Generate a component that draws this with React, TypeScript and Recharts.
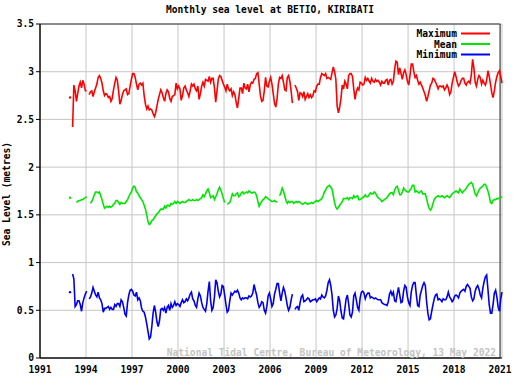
import { LineChart, Line, XAxis, YAxis, CartesianGrid, ReferenceArea } from "recharts";

// monthly values starting Dec 1992, one row per calendar year after that
const maxLevel = [
  2.73,
  null, 2.42, 2.86, 2.80, 2.69, 2.77, 2.85, 2.89, 2.83, 2.91, 2.87, 2.80,
  2.80, null, 2.76, 2.79, 2.80, 2.74, 2.79, 2.83, 2.87, 2.94, 2.96, 2.93,
  2.88, 2.80, 2.75, 2.77, 2.76, 2.73, 2.74, 2.69, 2.72, 2.81, 2.88, 2.94,
  2.91, 2.80, 2.66, 2.70, 2.76, 2.80, 2.81, 2.82, 2.76, 2.77, 2.85, 2.92,
  2.98, 2.98, 2.94, 2.87, 2.81, 2.87, 2.88, 2.86, 2.88, 2.75, 2.66, 2.61,
  2.64, 2.60, 2.61, 2.60, 2.56, 2.53, 2.57, 2.64, 2.71, 2.76, 2.81, 2.78,
  2.73, 2.69, 2.77, 2.81, 2.79, 2.72, 2.69, 2.74, 2.75, 2.76, 2.88, 2.82,
  2.85, 2.82, 2.70, 2.75, 2.83, 2.85, 2.81, 2.78, 2.74, 2.80, 2.87, 2.85,
  2.87, 2.82, 2.80, 2.85, 2.71, 2.77, 2.85, 2.89, 2.85, 2.92, 2.91, 2.90,
  2.95, 2.89, 2.93, 2.93, 2.83, 2.68, 2.80, 2.92, 2.96, 2.95, 2.91, 2.87,
  2.84, 2.80, 2.87, 2.82, 2.80, 2.82, 2.75, 2.79, 2.76, 2.68, 2.62, 2.72,
  2.83, 2.83, 2.77, 2.88, 2.83, 2.82, 2.87, 2.79, 2.86, 2.89, 2.88, 2.92,
  2.93, 2.98, 2.99, 2.87, 2.75, 2.69, 2.70, 2.80, 2.94, 2.85, 2.84, 2.90,
  2.94, 2.87, 2.77, 2.67, 2.63, 2.72, 2.87, 2.94, 2.93, 2.96, 2.89, 2.81,
  2.80, 2.94, 2.96, 2.90, 2.80, 2.67, null, 2.86, 2.83, 2.79, 2.70, 2.78,
  2.77, 2.74, 2.79, 2.71, 2.74, 2.77, 2.73, 2.76, 2.73, 2.75, 2.80, 2.79,
  2.85, 2.87, 2.87, 2.94, 2.98, 2.97, 2.96, 2.98, 2.93, 2.94, 2.93, 2.92,
  2.99, 3.05, 3.00, 2.92, 2.64, 2.57, 2.63, 2.72, 2.86, 2.82, 2.90, 2.87,
  2.82, 2.96, 2.98, 2.98, 2.95, 2.82, 2.71, 2.79, 2.83, 2.81, 2.89, 2.88,
  2.86, 2.87, 2.94, 2.91, 2.93, 2.90, 2.88, 2.93, 2.90, 2.89, 2.92, 2.90,
  2.91, 2.89, 2.86, 2.90, 2.88, 2.88, 2.91, 2.92, 2.86, 2.91, 2.92, 2.87,
  2.90, 3.03, 3.11, 3.10, 2.97, 3.04, 2.98, 2.92, 2.99, 3.02, 2.97, 2.90,
  2.86, 2.96, 3.08, 3.08, 3.00, 2.94, 2.96, 2.91, 2.87, 2.89, 2.86, 2.83,
  2.79, 2.75, 2.69, 2.74, 2.80, 2.86, 2.88, 2.93, 2.92, 2.89, 2.86, 2.82,
  2.85, 2.85, 2.84, 2.85, 2.81, 2.83, 2.86, 2.83, 2.76, 2.79, 2.88, 2.94,
  3.00, 2.95, 2.89, 2.85, 2.87, 2.91, 2.93, 2.93, 2.88, 2.86, 2.89, 2.90,
  2.88, 2.97, 3.13, 3.04, 2.89, 2.85, 2.92, 2.96, 2.94, 2.87, 2.91, 2.88,
  2.86, 2.91, 3.01, 2.95, 2.87, 2.78, 2.73, 2.80, 2.89, 2.95, 2.99, 3.01,
  2.95, 2.88,
];

const meanLevel = [
  1.68,
  null, null, null, null, 1.63, 1.64, 1.65, 1.65, 1.66, 1.66, 1.67, 1.68,
  1.69, null, null, 1.62, 1.64, 1.67, 1.71, 1.74, 1.74, 1.73, 1.74, 1.70,
  1.66, 1.61, 1.57, 1.58, 1.59, 1.58, 1.59, 1.58, 1.59, 1.61, 1.62, 1.65,
  1.65, 1.63, 1.61, 1.63, 1.62, 1.62, 1.62, 1.64, 1.66, 1.69, 1.72, 1.74,
  1.78, 1.80, 1.79, 1.74, 1.73, 1.70, 1.68, 1.66, 1.64, 1.60, 1.56, 1.50,
  1.43, 1.40, 1.41, 1.44, 1.45, 1.47, 1.49, 1.51, 1.52, 1.54, 1.56, 1.56,
  1.56, 1.59, 1.57, 1.60, 1.60, 1.59, 1.62, 1.61, 1.62, 1.64, 1.62, 1.64,
  1.63, 1.62, 1.63, 1.64, 1.63, 1.63, 1.64, 1.65, 1.66, 1.65, 1.65, 1.66,
  1.65, 1.65, 1.66, 1.65, 1.66, 1.67, 1.68, 1.71, 1.69, 1.72, 1.75, 1.77,
  1.73, 1.68, 1.69, 1.70, 1.66, 1.69, 1.72, 1.76, 1.79, 1.76, 1.72, 1.67,
  1.63, null, 1.61, 1.62, 1.63, 1.67, 1.72, 1.70, 1.70, 1.72, 1.73, 1.69,
  1.70, 1.73, 1.74, 1.72, 1.73, 1.74, 1.73, 1.75, 1.74, 1.73, 1.73, 1.74,
  1.73, 1.70, 1.64, 1.59, 1.62, 1.64, 1.66, 1.67, 1.69, 1.68, 1.67, 1.66,
  1.65, 1.64, 1.64, 1.65, 1.64, 1.63, null, 1.70, 1.73, 1.78, 1.75, 1.70,
  1.65, 1.62, 1.64, 1.63, 1.64, 1.64, 1.62, 1.63, 1.64, 1.63, 1.64, 1.63,
  1.62, 1.61, 1.62, 1.63, 1.62, 1.61, 1.62, 1.62, 1.63, 1.62, 1.63, 1.64,
  1.65, 1.64, 1.65, 1.66, 1.67, 1.70, 1.74, 1.76, 1.79, 1.80, 1.81, 1.79,
  1.77, 1.70, 1.63, 1.58, 1.56, 1.58, 1.60, 1.62, 1.64, 1.67, 1.67, 1.67,
  1.68, 1.66, 1.68, 1.68, 1.67, 1.70, 1.68, 1.69, 1.70, 1.66, 1.66, 1.67,
  1.68, 1.69, 1.71, 1.69, 1.69, 1.71, 1.73, 1.72, 1.72, 1.74, 1.73, 1.70,
  1.68, 1.67, 1.66, 1.64, 1.65, 1.66, 1.67, 1.68, 1.70, 1.72, 1.73, 1.73,
  1.71, 1.76, 1.79, 1.80, 1.76, 1.71, 1.71, 1.74, 1.78, 1.76, 1.75, 1.74,
  1.74, 1.76, 1.78, 1.81, 1.81, 1.74, 1.75, 1.74, 1.73, 1.74, 1.75, 1.72,
  1.72, 1.72, 1.67, 1.61, 1.57, 1.55, 1.57, 1.62, 1.66, 1.68, 1.69, 1.70,
  1.69, 1.69, 1.70, 1.69, 1.68, 1.69, 1.70, 1.69, 1.68, 1.70, 1.72, 1.73,
  1.74, 1.75, 1.74, 1.73, 1.77, 1.75, 1.73, 1.75, 1.76, 1.78, 1.80, 1.82,
  1.83, 1.84, 1.82, 1.77, 1.72, 1.70, 1.73, 1.76, 1.78, 1.79, 1.80, 1.82,
  1.82, 1.79, 1.75, 1.70, 1.63, 1.62, 1.65, 1.66, 1.66, 1.67, 1.67, 1.68,
  1.68, 1.69,
];

const minLevel = [
  0.69,
  null, 0.88, 0.83, 0.54, 0.56, 0.60, 0.60, 0.56, 0.49, 0.58, 0.63, 0.67,
  0.70, null, 0.62, 0.64, 0.68, 0.74, 0.70, 0.66, 0.64, 0.69, 0.63, 0.61,
  0.57, 0.48, 0.52, 0.52, 0.53, 0.54, 0.51, 0.53, 0.51, 0.51, 0.56, 0.54,
  0.57, 0.57, 0.54, 0.61, 0.59, 0.53, 0.46, 0.44, 0.58, 0.66, 0.71, 0.72,
  0.70, 0.66, 0.65, 0.69, 0.61, 0.63, 0.60, 0.52, 0.49, 0.48, 0.43, 0.36,
  0.28, 0.20, 0.22, 0.33, 0.47, 0.55, 0.48, 0.38, 0.33, 0.39, 0.51, 0.52,
  0.50, 0.53, 0.47, 0.53, 0.55, 0.50, 0.57, 0.53, 0.55, 0.59, 0.55, 0.57,
  0.56, 0.54, 0.58, 0.61, 0.58, 0.59, 0.62, 0.60, 0.63, 0.67, 0.69, 0.62,
  0.60, 0.55, 0.53, 0.62, 0.68, 0.65, 0.58, 0.53, 0.51, 0.49, 0.57, 0.70,
  0.80, 0.60, 0.50, 0.53, 0.64, 0.82, 0.79, 0.70, 0.64, 0.67, 0.76, 0.75,
  0.66, 0.56, 0.48, 0.50, 0.60, 0.68, 0.66, 0.68, 0.70, 0.69, 0.71, 0.68,
  0.63, 0.61, 0.63, 0.62, 0.63, 0.63, 0.62, 0.65, 0.64, 0.65, 0.68, 0.77,
  0.71, 0.66, 0.58, 0.53, 0.55, 0.59, 0.58, 0.50, 0.47, 0.54, 0.65, 0.68,
  0.62, 0.54, 0.57, 0.67, 0.72, 0.78, 0.78, 0.68, 0.60, 0.68, 0.74, 0.70,
  0.63, 0.55, 0.50, 0.53, 0.61, 0.67, null, 0.51, 0.53, 0.54, 0.50, 0.58,
  0.64, 0.66, 0.59, 0.60, 0.61, 0.63, 0.62, 0.59, 0.60, 0.61, 0.61, 0.62,
  0.59, 0.61, 0.63, 0.62, 0.66, 0.64, 0.63, 0.65, 0.71, 0.79, 0.82, 0.76,
  0.66, 0.50, 0.43, 0.45, 0.52, 0.65, 0.60, 0.49, 0.42, 0.41, 0.51, 0.62,
  0.66, 0.57, 0.45, 0.43, 0.48, 0.65, 0.68, 0.61, 0.53, 0.50, 0.63, 0.69,
  0.70, 0.68, 0.62, 0.66, 0.68, 0.68, 0.63, 0.64, 0.63, 0.62, 0.63, 0.62,
  0.61, 0.61, 0.61, 0.58, 0.57, 0.56, 0.56, 0.55, 0.59, 0.67, 0.70, 0.66,
  0.69, 0.60, 0.59, 0.67, 0.74, 0.66, 0.58, 0.59, 0.70, 0.76, 0.74, 0.64,
  0.58, 0.55, 0.69, 0.76, 0.79, 0.79, 0.66, 0.55, 0.54, 0.66, 0.71, 0.76,
  0.79, 0.76, 0.59, 0.47, 0.40, 0.41, 0.49, 0.56, 0.62, 0.66, 0.67, 0.61,
  0.62, 0.61, 0.59, 0.62, 0.61, 0.61, 0.64, 0.69, 0.64, 0.62, 0.59, 0.61,
  0.65, 0.66, 0.65, 0.63, 0.68, 0.70, 0.71, 0.72, 0.70, 0.75, 0.77, 0.75,
  0.73, 0.64, 0.60, 0.62, 0.70, 0.74, 0.76, 0.72, 0.66, 0.63, 0.73, 0.80,
  0.85, 0.87, 0.72, 0.56, 0.47, 0.47, 0.56, 0.68, 0.71, 0.64, 0.53, 0.49,
  0.62, 0.69,
];

const yearTicks = [1991, 1994, 1997, 2000, 2003, 2006, 2009, 2012, 2015, 2018, 2021];
const levelTicks = [0, 0.5, 1, 1.5, 2, 2.5, 3, 3.5];

const series = [
  { key: "max", name: "Maximum", color: "#ff0000", values: maxLevel },
  { key: "mean", name: "Mean", color: "#00e600", values: meanLevel },
  { key: "min", name: "Minimum", color: "#0000ee", values: minLevel },
];

// mid-month decimal year, first entry is Dec 1992
const data = maxLevel.map((_, i) => ({
  year: 1992 + (11.5 + i) / 12,
  max: maxLevel[i],
  mean: meanLevel[i],
  min: minLevel[i],
}));

const FONT = "'DejaVu Sans Mono', 'Liberation Mono', monospace";
const tickStyle = { fontFamily: FONT, fontSize: 9.6, fontWeight: "bold", fill: "#000" };

// only months with no neighbours get a dot, otherwise they would vanish
const loneDot = (values: (number | null)[], color: string) => (props: any) => {
  const { cx, cy, index } = props;
  const lone = values[index] != null && values[index - 1] == null && values[index + 1] == null;
  if (!lone || cx == null || cy == null) return <g key={index} />;
  return <circle key={index} cx={cx} cy={cy} r={1.2} fill={color} />;
};

export default function App() {
  return (
    <div style={{ position: "absolute", left: 0, top: 0, width: 527, height: 379, background: "#fff" }}>
      <LineChart width={527} height={379} data={data} margin={{ top: 24, right: 25, bottom: 0, left: 0 }}>
        <CartesianGrid stroke="#c6c6c6" strokeWidth={1} />
        <XAxis
          type="number"
          dataKey="year"
          domain={[1991, 2021]}
          ticks={yearTicks}
          height={21}
          tick={tickStyle}
          tickLine={false}
          axisLine={{ stroke: "#000" }}
        />
        <YAxis
          domain={[0, 3.5]}
          ticks={levelTicks}
          width={40}
          tick={tickStyle}
          tickSize={4}
          tickMargin={2}
          tickLine={{ stroke: "#000" }}
          axisLine={{ stroke: "#000" }}
        />
        <ReferenceArea x1={1991} x2={2021} y1={0} y2={3.5} fill="none" stroke="#333" strokeWidth={1} />
        {series.map((s) => (
          <Line
            key={s.key}
            type="linear"
            dataKey={s.key}
            name={s.name}
            stroke={s.color}
            strokeWidth={1.6}
            dot={loneDot(s.values, s.color)}
            activeDot={false}
            isAnimationActive={false}
          />
        ))}
      </LineChart>
      <svg
        width={527}
        height={379}
        style={{ position: "absolute", left: 0, top: 0, pointerEvents: "none" }}
        fontFamily={FONT}
        fontWeight="bold"
        fontSize={9.6}
      >
        <text x={270} y={12.5} textAnchor="middle" fill="#000">
          Monthly sea level at BETIO, KIRIBATI
        </text>
        <text x={10} y={194} textAnchor="middle" fill="#000" transform="rotate(-90 10 194)">
          Sea Level (metres)
        </text>
        <text x={496} y={355.5} textAnchor="end" fill="#c4c4c4">
          National Tidal Centre, Bureau of Meteorology, 13 May 2022
        </text>
        {series.map((s, i) => (
          <g key={s.key}>
            <text x={457} y={37 + i * 10.5} textAnchor="end" fill="#000">
              {s.name}
            </text>
            <line x1={461} x2={490} y1={33.5 + i * 10.5} y2={33.5 + i * 10.5} stroke={s.color} strokeWidth={2} />
          </g>
        ))}
      </svg>
    </div>
  );
}
